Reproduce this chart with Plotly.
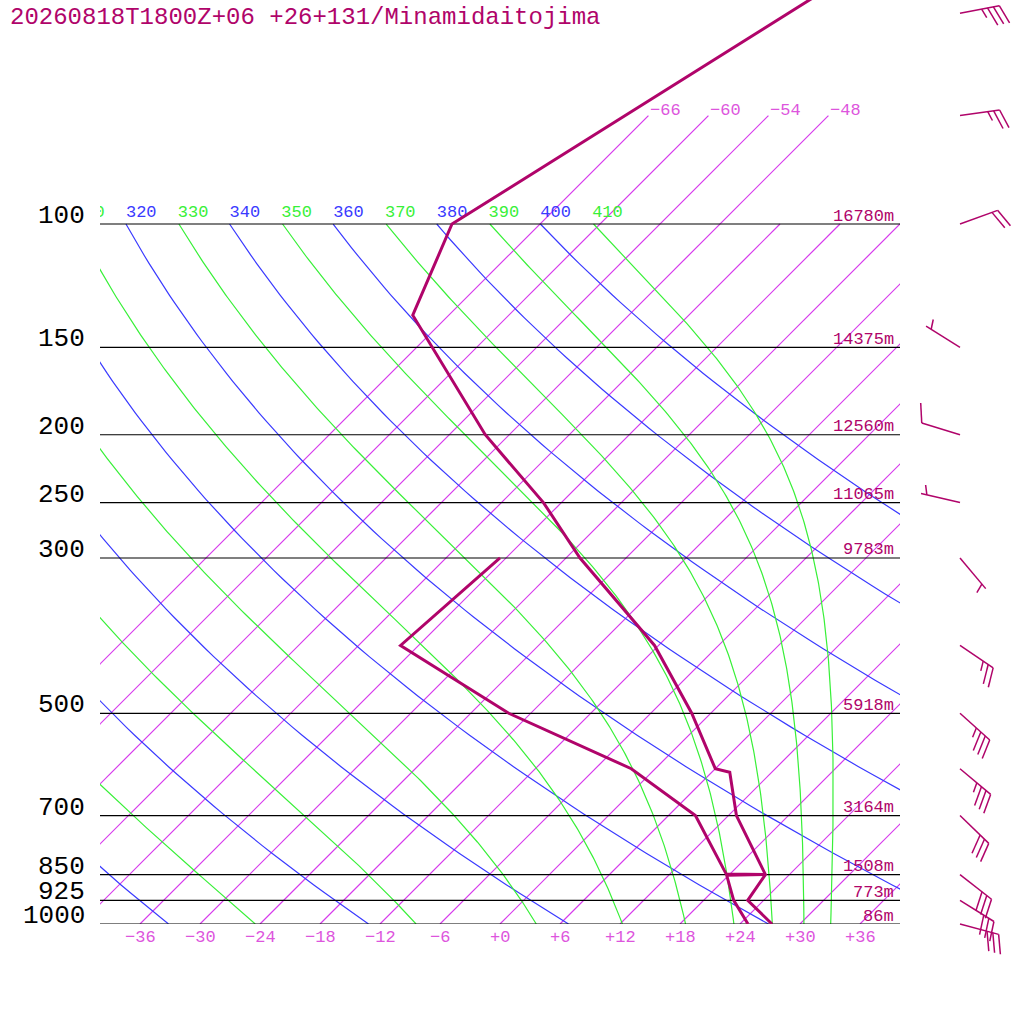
import numpy as np
import plotly.graph_objects as go

title = "20260818T1800Z+06 +26+131/Minamidaitojima"

# temperature profile (hPa, degC)
temp_p = [1000, 925, 850, 700, 607, 600, 500, 400, 300, 250, 200, 135, 100, 70, 50, 30]
temp_c = [27.2, 22.4, 21.6, 12.8, 7.8, 6.0, -1.9, -12.4, -28.6, -37.8, -50.4, -69.6, -74.8, -68.3, -62.2, -53.0]

# dewpoint profile (hPa, degC)
dew_p = [1000, 925, 852, 850, 848, 700, 600, 500, 400, 300]
dew_c = [24.8, 21.0, 17.8, 21.6, 17.6, 8.7, -2.4, -20.2, -37.8, -36.6]

# standard levels and geopotential heights
levels = [1000, 925, 850, 700, 500, 300, 250, 200, 150, 100]
heights = [86, 773, 1508, 3164, 5918, 9783, 11065, 12560, 14375, 16780]

# winds: direction (deg) and speed (kt)
wind_p = [1000, 925, 850, 700, 600, 500, 400, 300, 250, 200, 150, 100, 70, 50]
wind_dir = [105, 122, 128, 134, 130, 132, 124, 140, 283, 287, 302, 70, 82, 79]
wind_kt = [30, 30, 30, 30, 35, 35, 25, 5, 5, 10, 5, 20, 25, 35]

temp_ticks = [-36, -30, -24, -18, -12, -6, 0, 6, 12, 18, 24, 30, 36]
isotherms = [-66, -60, -54, -48, -42, -36, -30, -24, -18, -12, -6, 0, 6, 12, 18, 24, 30, 36]
isotherm_labels = [-66, -60, -54, -48]
dry_theta = [240, 260, 280, 300, 320, 340, 360, 380, 400]
moist_theta = [250, 270, 290, 310, 330, 350, 370, 390, 410]

# diagram geometry
PX_LN = 304.0          # pixels per ln(p) unit
SKEW = PX_LN / 10.0    # degC shift per ln(p) unit (10 px per degC)
P_TOP = 1000 * np.exp(-924 / PX_LN)
P_BOT = 1000 * np.exp(100 / PX_LN)

MAG = "rgb(176,4,106)"
ISO = "rgb(214,58,236)"
ISO_TXT = "rgb(221,85,221)"
BLUE = "rgb(58,58,255)"
GREEN = "rgb(56,240,56)"
MONO = "Liberation Mono"


def skew(t, p):
    return np.asarray(t, float) + SKEW * np.log(1000.0 / np.asarray(p, float))


def moist_line(theta):
    Rd, cp, Lv, eps = 287.04, 1005.7, 2.501e6, 0.622
    lnp = np.linspace(np.log(100.0), np.log(1000.0), 240)
    T = theta * 0.1 ** (Rd / cp)

    def f(lp, T):
        p = np.exp(lp)
        tc = T - 273.15
        es = 6.112 * np.exp(17.67 * tc / (tc + 243.5))
        rs = eps * es / (p - es)
        return (Rd * T + Lv * rs) / (cp + Lv ** 2 * rs * eps / (Rd * T ** 2))

    out = [T]
    for i in range(len(lnp) - 1):
        h = lnp[i + 1] - lnp[i]
        k1 = f(lnp[i], T)
        k2 = f(lnp[i] + h / 2, T + h * k1 / 2)
        k3 = f(lnp[i] + h / 2, T + h * k2 / 2)
        k4 = f(lnp[i] + h, T + h * k3)
        T = T + h * (k1 + 2 * k2 + 2 * k3 + k4) / 6
        out.append(T)
    return np.exp(lnp), np.array(out) - 273.15


fig = go.Figure()

# isotherms
for t in isotherms:
    top = 70 if t in isotherm_labels else 100
    fig.add_trace(go.Scatter(x=skew([t, t], [1000, top]), y=[1000, top], mode="lines",
                             line=dict(color=ISO, width=1.2), hoverinfo="skip"))

# dry adiabats
pp = np.geomspace(1000, 100, 90)
for th in dry_theta:
    tt = th * (pp / 1000.0) ** 0.2857 - 273.15
    fig.add_trace(go.Scatter(x=skew(tt, pp), y=pp, mode="lines",
                             line=dict(color=BLUE, width=1.2), hoverinfo="skip"))

# moist adiabats
for th in moist_theta:
    mp, mt = moist_line(th)
    fig.add_trace(go.Scatter(x=skew(mt, mp), y=mp, mode="lines",
                             line=dict(color=GREEN, width=1.2), hoverinfo="skip"))

# pressure levels
for p in levels:
    fig.add_trace(go.Scatter(x=[-40, 40], y=[p, p], mode="lines",
                             line=dict(color="black", width=1.2), hoverinfo="skip"))

# theta labels along the 100 hPa line
lab_p = 100 * np.exp(-11.5 / PX_LN)
th_all = sorted(dry_theta[4:] + moist_theta[3:])
th_x = [skew(th * 0.1 ** 0.2857 - 273.15, 100) for th in th_all]
fig.add_trace(go.Scatter(x=th_x, y=[lab_p] * len(th_all), mode="text",
                         text=[str(t) for t in th_all], textposition="middle right",
                         textfont=dict(family=MONO, size=17,
                                       color=[BLUE if t % 20 == 0 else GREEN for t in th_all]),
                         cliponaxis=True, hoverinfo="skip"))

# profiles
fig.add_trace(go.Scatter(x=skew(temp_c, temp_p), y=temp_p, mode="lines",
                         line=dict(color=MAG, width=3), hoverinfo="skip"))
fig.add_trace(go.Scatter(x=skew(dew_c, dew_p), y=dew_p, mode="lines",
                         line=dict(color=MAG, width=3), hoverinfo="skip"))

# wind barbs (drawn on a full-page overlay axis, x in pixels)
bx, by = [], []
for p, d, s in zip(wind_p, wind_dir, wind_kt):
    a = np.radians(d)
    ux, uy = np.sin(a), -np.cos(a)
    r = np.radians(70)
    vx, vy = ux * np.cos(r) - uy * np.sin(r), ux * np.sin(r) + uy * np.cos(r)
    x0, y0 = 960.0, 0.0
    segs = [((x0, y0), (x0 + 40 * ux, y0 + 40 * uy))]
    n_full, n_half = int(s // 10), int((s % 10) >= 5)
    pos = 40.0
    for i in range(n_full):
        sx, sy = x0 + pos * ux, y0 + pos * uy
        segs.append(((sx, sy), (sx + 20 * vx, sy + 20 * vy)))
        pos -= 6
    if n_half:
        if n_full == 0:
            pos -= 6
        sx, sy = x0 + pos * ux, y0 + pos * uy
        segs.append(((sx, sy), (sx + 10 * vx, sy + 10 * vy)))
    for (xa, ya), (xb, yb) in segs:
        bx += [xa, xb, None]
        by += [p * np.exp(ya / PX_LN), p * np.exp(yb / PX_LN), None]
fig.add_trace(go.Scatter(x=bx, y=by, mode="lines", xaxis="x2", yaxis="y2",
                         line=dict(color=MAG, width=1.5), hoverinfo="skip"))

ann = []
# pressure labels
for p in levels:
    ann.append(dict(x=87 / 1024, xref="paper", y=np.log10(p), yref="y2", text=str(p),
                    xanchor="right", yanchor="middle", yshift=8, showarrow=False,
                    font=dict(family=MONO, size=26, color="black")))
# heights
for p, h in zip(levels, heights):
    ann.append(dict(x=896 / 1024, xref="paper", y=np.log10(p), yref="y2", text=f"{h}m",
                    xanchor="right", yanchor="middle", yshift=8, showarrow=False,
                    font=dict(family=MONO, size=17, color=MAG)))
# bottom temperature labels
for t in temp_ticks:
    ann.append(dict(x=t, xref="x", y=np.log10(1000), yref="y2",
                    text=("+" if t >= 0 else "\u2212") + str(abs(t)),
                    xanchor="center", yanchor="middle", yshift=-13, showarrow=False,
                    font=dict(family=MONO, size=17, color=ISO_TXT)))
# isotherm labels above 100 hPa
for t in isotherm_labels:
    ann.append(dict(x=float(skew(t, 70)), xref="x", y=np.log10(70), yref="y2",
                    text="\u2212" + str(abs(t)), xanchor="left", yanchor="middle", yshift=5,
                    showarrow=False, font=dict(family=MONO, size=17, color=ISO_TXT)))
ann.append(dict(x=8 / 1024, xref="paper", y=1 - 17 / 1024, yref="paper", text=title,
                xanchor="left", yanchor="middle", showarrow=False,
                font=dict(family=MONO, size=24, color=MAG)))

fig.update_layout(
    width=1024, height=1024, margin=dict(l=0, r=0, t=0, b=0),
    paper_bgcolor="white", plot_bgcolor="rgba(0,0,0,0)", showlegend=False,
    xaxis=dict(domain=[100 / 1024, 900 / 1024], range=[-40, 40], visible=False),
    yaxis=dict(domain=[100 / 1024, 1], type="log", range=[3, np.log10(P_TOP)], visible=False),
    xaxis2=dict(domain=[0, 1], range=[0, 1024], visible=False, anchor="y2"),
    yaxis2=dict(domain=[0, 1], type="log", range=[np.log10(P_BOT), np.log10(P_TOP)],
                visible=False, anchor="x2"),
    annotations=ann,
)

fig.write_html("out.html", config={"displayModeBar": False},
               post_script="document.body.style.margin='0px';")
